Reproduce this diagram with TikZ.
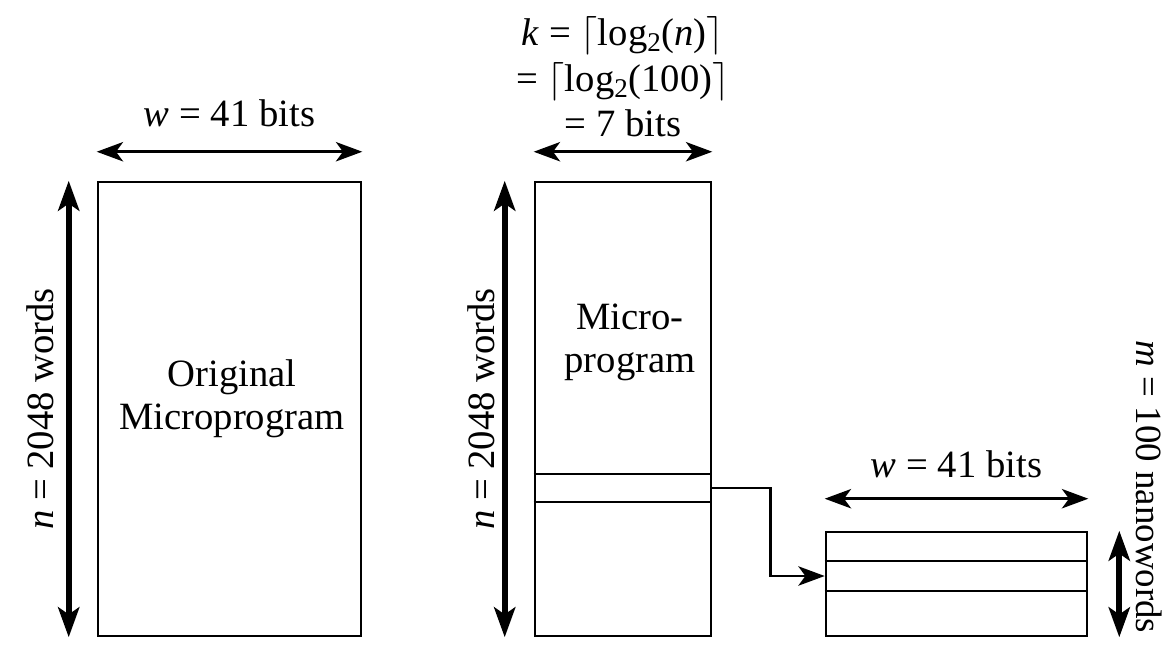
\RequirePackage{fix-cm}
\documentclass[tikz,border=0pt]{standalone}
\usepackage{fontspec}
\setmainfont{Liberation Serif}
\usetikzlibrary{positioning,calc,arrows.meta}
\tikzset{
  mem/.style={rectangle, draw=black, line width=1.5pt, inner sep=0pt},
  slotline/.style={line width=1.5pt},
  dimh/.style={{Stealth[length=15pt,width=11pt,inset=4pt]}-{Stealth[length=15pt,width=11pt,inset=4pt]}, line width=1.6pt},
  dimv/.style={{Stealth[length=17pt,width=12pt,inset=4pt]}-{Stealth[length=17pt,width=12pt,inset=4pt]}, line width=3.5pt},
  link/.style={-{Stealth[length=15pt,width=11pt,inset=4pt]}, line width=1.6pt},
  lbl/.style={font=\fontsize{22}{24.5}\selectfont, inner sep=0pt, text centered}
}
\begin{document}
\begin{tikzpicture}[x=0.02cm, y=-0.02cm]
	\useasboundingbox (0,0) rectangle (1165,652);
	% memories
	\node[mem, minimum width=5.26cm, minimum height=9.08cm] (orig) at (229.5,409) {};
	\node[mem, minimum width=3.52cm, minimum height=9.08cm] (micro) at (623,409) {};
	\node[mem, minimum width=5.22cm, minimum height=2.08cm] (nano) at (956.5,584) {};
	\node[lbl, align=center] (origtxt) at (232,399) {Original\\Microprogram};
	\node[lbl, align=center] (microtxt) at (630,342) {Micro-\\program};
	%
	\draw[slotline] (micro.west |- 0,474) -- (micro.east |- 0,474);
	\draw[slotline] (micro.west |- 0,502) -- (micro.east |- 0,502);
	\draw[slotline] (nano.west |- 0,561) -- (nano.east |- 0,561);
	\draw[slotline] (nano.west |- 0,591) -- (nano.east |- 0,591);
	% widths
	\draw[dimh] ([yshift=0.58cm]orig.north west) -- ([yshift=0.58cm]orig.north east)
		node[lbl, midway, yshift=0.76cm] (wtop) {\textit{w} = 41 bits};
	\draw[dimh] ([yshift=0.58cm]micro.north west) -- ([yshift=0.58cm]micro.north east)
		node[lbl, midway, above=0.26cm, align=center, font=\fontsize{22}{26}\selectfont] (ktop) {\textit{k} = $\bigl\lceil$log\textsubscript{2}(\textit{n})$\bigr\rceil$\\= $\bigl\lceil$log\textsubscript{2}(100)$\bigr\rceil$\\= 7 bits};
	\draw[dimh] ([yshift=0.64cm]nano.north west) -- ([yshift=0.64cm]nano.north east)
		node[lbl, midway, yshift=0.68cm] (wnano) {\textit{w} = 41 bits};
	% heights
	\draw[dimv] ([xshift=-0.56cm]orig.north west) -- ([xshift=-0.56cm]orig.south west);
	\node[lbl, rotate=90] (norig) at (40,409) {\textit{n} = 2048 words};
	\draw[dimv] ([xshift=-0.58cm]micro.north west) -- ([xshift=-0.58cm]micro.south west);
	\node[lbl, rotate=90] (nmicro) at (481,409) {\textit{n} = 2048 words};
	\draw[dimv] ([xshift=0.62cm]nano.north east) -- ([xshift=0.62cm]nano.south east);
	\node[lbl, rotate=-90, font=\fontsize{21}{24}\selectfont] (mnano) at (1149,487) {\textit{m} = 100 nanowords};
	% pointer into nanomemory
	\coordinate (slot) at (micro.east |- 0,488);
	\coordinate (entry) at (nano.west |- 0,576);
	\draw[link] (slot) -- ++(58,0) |- (entry);
\end{tikzpicture}
\end{document}
